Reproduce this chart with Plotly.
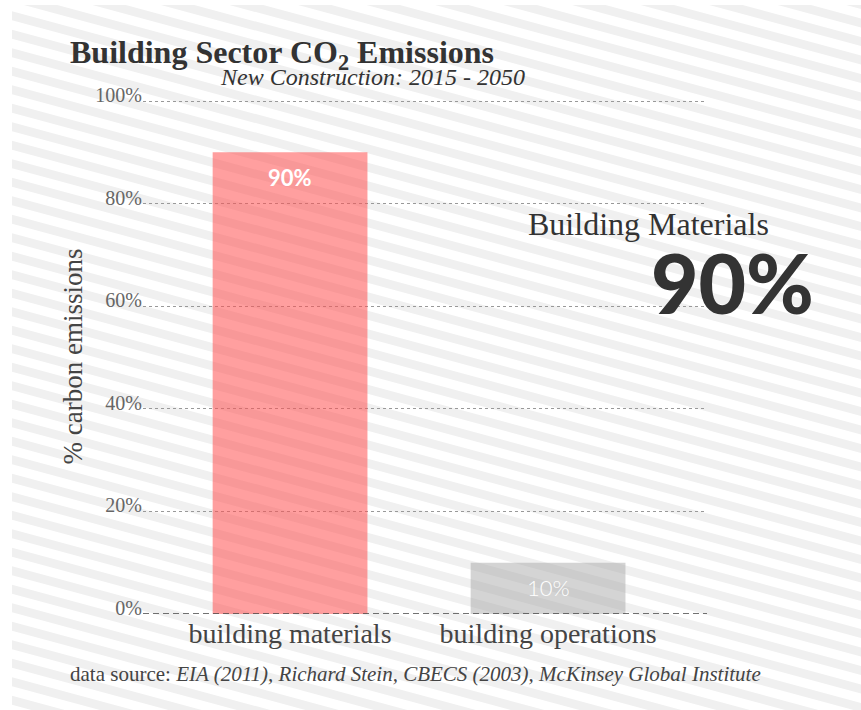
import plotly.graph_objects as go

# data
categories = ["building materials", "building operations"]
shares = [90, 10]
bar_labels = ["90%", "10%"]
bar_colors = ["rgba(255,80,80,0.55)", "rgba(160,160,160,0.45)"]
label_weights = [700, 300]
y_ticks = [0, 20, 40, 60, 80, 100]
y_tick_text = [f"{v}%" for v in y_ticks]

W, H = 861, 710
ML, MR, MT, MB = 143, 154, 99, 96
PW, PH = W - ML - MR, H - MT - MB
Y_TOP = 100 * PH / (614 - 101)  # keeps the 100% line inside the plot area

SERIF = "Liberation Serif, DejaVu Serif, serif"
SANS = "Lato, Open Sans, sans-serif"


def px(x):
    """pixel x -> paper x"""
    return (x - ML) / PW


def py(y):
    """pixel y -> paper y"""
    return 1 - (y - MT) / PH


def stripes(slope=0.27, period=18.5, thick=9.0, x0=12, y0=5):
    """Diagonal light-gray background stripes as paper-ref shapes."""
    parts = []
    c = -W * slope - period
    while c < H + period:
        pts = [(0, c), (W, c + W * slope), (W, c + W * slope + thick), (0, c + thick)]
        parts.append("M " + " L ".join(f"{px(a):.5f},{py(b):.5f}" for a, b in pts) + " Z")
        c += period
    shapes = [dict(type="path", path=" ".join(parts), xref="paper", yref="paper",
                   fillcolor="#f0f0f0", line_width=0, layer="below")]
    # white frame on the left / top edge
    shapes.append(dict(type="rect", xref="paper", yref="paper", x0=px(-5), x1=px(x0),
                       y0=py(H + 5), y1=py(-5), fillcolor="white", line_width=0, layer="below"))
    shapes.append(dict(type="rect", xref="paper", yref="paper", x0=px(-5), x1=px(W + 5),
                       y0=py(y0), y1=py(-5), fillcolor="white", line_width=0, layer="below"))
    return shapes


fig = go.Figure(go.Bar(
    x=categories,
    y=shares,
    width=0.6,
    marker={"color": bar_colors, "line": {"width": 0}},
    hoverinfo="skip",
))

annotations = []
for cat, val, lab, wt in zip(categories, shares, bar_labels, label_weights):
    annotations.append(dict(
        x=cat, y=val, xref="x", yref="y", text=lab, showarrow=False,
        yanchor="middle", yshift=-25,
        font={"family": SANS, "size": 22, "color": "white", "weight": wt},
    ))

annotations += [
    dict(x=px(68), y=py(54), xref="paper", yref="paper", xanchor="left", yanchor="middle",
         text="<b>Building Sector CO<sub>2</sub> Emissions</b>", showarrow=False,
         font={"family": SERIF, "size": 32, "color": "#333"}),
    dict(x=px(372), y=py(77), xref="paper", yref="paper", xanchor="center", yanchor="middle",
         text="<i>New Construction: 2015 - 2050</i>", showarrow=False,
         font={"family": SERIF, "size": 24, "color": "#333"}),
    dict(x=px(771), y=py(224), xref="paper", yref="paper", xanchor="right", yanchor="middle",
         text="Building Materials", showarrow=False,
         font={"family": SERIF, "size": 32, "color": "#333"}),
    dict(x=px(816), y=py(282), xref="paper", yref="paper", xanchor="right", yanchor="middle",
         text=bar_labels[0], showarrow=False,
         font={"family": SANS, "size": 82, "color": "#333", "weight": 900}),
    dict(x=px(68), y=py(674), xref="paper", yref="paper", xanchor="left", yanchor="middle",
         text="data source: <i>EIA (2011), Richard Stein, CBECS (2003), McKinsey Global Institute</i>",
         showarrow=False, font={"family": SERIF, "size": 21, "color": "#444"}),
]

shapes = stripes()
# dashed baseline at 0%
shapes.append(dict(type="line", xref="paper", yref="y", x0=0, x1=1, y0=0, y1=0,
                   line={"color": "#444", "width": 1.3, "dash": "6px,4px"}, layer="above"))

fig.update_layout(
    width=W,
    height=H,
    margin={"l": ML, "r": MR, "t": MT, "b": MB, "pad": 0},
    paper_bgcolor="white",
    plot_bgcolor="rgba(0,0,0,0)",
    showlegend=False,
    xaxis={
        "type": "category",
        "range": [-0.57, 1.616],
        "showgrid": False,
        "showline": False,
        "zeroline": False,
        "ticks": "",
        "tickfont": {"family": SERIF, "size": 28, "color": "#444"},
    },
    yaxis={
        "range": [0, Y_TOP],
        "tickvals": y_ticks,
        "ticktext": y_tick_text,
        "ticks": "",
        "ticklabelshift": -6,
        "ticklabelstandoff": 0,
        "showgrid": True,
        "gridcolor": "#999",
        "gridwidth": 1,
        "griddash": "dot",
        "zeroline": False,
        "showline": False,
        "tickfont": {"family": SERIF, "size": 20, "color": "#666"},
        "title": {"text": "% carbon emissions", "standoff": 4,
                  "font": {"family": SERIF, "size": 27, "color": "#444"}},
    },
    shapes=shapes,
    annotations=annotations,
)

# the page's default body margin would offset the figure by 8px
fig.write_html(
    "out.html",
    config={"displayModeBar": False},
    post_script="document.body.style.margin='0';",
)
